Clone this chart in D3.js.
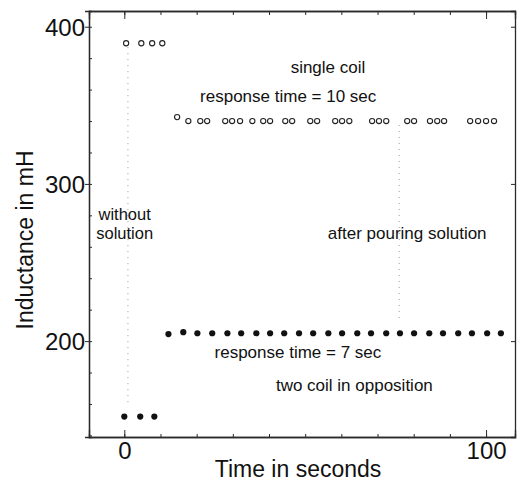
<!DOCTYPE html>
<html>
<head>
<meta charset="utf-8">
<script src="https://cdn.jsdelivr.net/npm/d3@7"></script>
<style>
  body { margin: 0; background: #fff; }
  svg text { font-family: "Liberation Sans", Arial, Helvetica, sans-serif; fill: #111; }
</style>
</head>
<body>
<div id="chart"></div>
<script>
// single coil (open circles): time in s, inductance in mH
let singleCoilTime = [0.5, 4.7, 7.7, 10.5, 14.6, 17.7, 21.0, 22.9, 27.9, 29.8, 32.0, 35.4, 38.4, 40.3, 44.5, 46.4,
    51.4, 53.3, 58.3, 60.2, 62.2, 68.5, 70.4, 72.4, 78.2, 80.1, 84.5, 86.5, 88.4, 95.6, 97.8, 100.0, 102.2]
let singleCoilL = [389.5, 389.5, 389.5, 389.5, 342.5, 340, 340, 340, 340, 340, 340, 340, 340, 340, 340, 340,
    340, 340, 340, 340, 340, 340, 340, 340, 340, 340, 340, 340, 340, 340, 340, 340, 340]

// two coil in opposition (filled dots)
let twoCoilTime = [0, 4.4, 8.3, 12.2, 16.3, 20.2, 24.3, 28.5, 32.3, 36.5, 40.3, 44.2, 48.3, 52.2, 56.4,
    60.2, 64.4, 68.2, 72.4, 76.2, 80.1, 84.3, 88.1, 92.3, 96.1, 100.3, 104.1]
let twoCoilL = [152, 152, 152, 204.5, 205.7, 205, 205, 205, 205, 205, 205, 205, 205, 205, 205,
    205, 205, 205, 205, 205, 205, 205, 205, 205, 205, 205, 205]

// dotted guide lines (time, from, to)
let guideTime = [1, 76]
let guideFrom = [387, 337.5]
let guideTo = [161, 214.6]

// axis ticks
let xMajor = [0, 100]
let xMinor = [0, 10, 20, 30, 40, 50, 60, 70, 80, 90, 100]
let yMajor = [200, 300, 400]
let yMinor = [140, 160, 180, 200, 220, 240, 260, 280, 300, 320, 340, 360, 380, 400]

// annotations
let noteText = ["single coil", "response time = 10 sec", "without", "solution", "after pouring solution",
    "response time = 7 sec", "two coil in opposition"]
let noteTime = [56.3, 45.3, 0.1, 0.1, 78.2, 48.0, 63.6]
let noteL = [370.6, 352.1, 277.2, 265.2, 265.2, 189.2, 168.2]

let width = 517
let height = 485
let margin = { top: 11, right: 2, bottom: 48, left: 89 }
let innerW = width - margin.left - margin.right
let innerH = height - margin.top - margin.bottom

let svg = d3.select("#chart").append("svg")
    .attr("width", width)
    .attr("height", height)

let g = svg.append("g")
    .attr("transform", "translate(" + margin.left + "," + margin.top + ")")

let xScale = d3.scaleLinear().domain([-9.76, 108]).range([0, innerW])
let yScale = d3.scaleLinear().domain([139, 410]).range([innerH, 0])

// 坐标轴
function styleAxis(sel) {
    sel.select(".domain").attr("stroke", "#2a2a2a").attr("stroke-width", 1.3)
    sel.selectAll(".tick line").attr("stroke", "#2a2a2a").attr("stroke-width", 1)
}

// minor ticks, all inward
g.append("g")
    .call(d3.axisLeft(yScale).tickValues(yMinor).tickSize(-3).tickFormat(""))
    .call(styleAxis)
g.append("g")
    .attr("transform", "translate(" + innerW + ",0)")
    .call(d3.axisRight(yScale).tickValues(yMajor).tickSize(-4).tickFormat(""))
    .call(styleAxis)
g.append("g")
    .call(d3.axisTop(xScale).tickValues(xMinor).tickSize(-4).tickFormat(""))
    .call(styleAxis)
g.append("g")
    .call(d3.axisTop(xScale).tickValues(xMajor).tickSize(-8).tickFormat(""))
    .call(styleAxis)
g.append("g")
    .attr("transform", "translate(0," + innerH + ")")
    .call(d3.axisBottom(xScale).tickValues(xMinor).tickSize(-3).tickFormat(""))
    .call(styleAxis)
g.append("g")
    .attr("transform", "translate(0," + innerH + ")")
    .call(d3.axisBottom(xScale).tickValues(xMajor).tickSize(-7).tickFormat(""))
    .call(styleAxis)

// major labelled axes
let yAxis = g.append("g")
    .call(d3.axisLeft(yScale).tickValues(yMajor).tickSize(4).tickPadding(0))
    .call(styleAxis)
yAxis.selectAll("text")
    .attr("font-size", "24px")
    .attr("dy", "0.36em")

let xAxis = g.append("g")
    .attr("transform", "translate(0," + innerH + ")")
    .call(d3.axisBottom(xScale).tickValues(xMajor).tickSize(0).tickPadding(5))
xAxis.select(".domain").remove()
xAxis.selectAll("text").attr("font-size", "24px")

// axis titles
svg.append("text")
    .attr("x", 298)
    .attr("y", 477)
    .attr("text-anchor", "middle")
    .attr("font-size", "23px")
    .text("Time in seconds")

svg.append("text")
    .attr("transform", "translate(33,240) rotate(-90)")
    .attr("text-anchor", "middle")
    .attr("font-size", "23px")
    .text("Inductance in mH")

// dotted guides
g.selectAll(".guide")
    .data(guideTime)
    .enter().append("line")
    .attr("class", "guide")
    .attr("x1", d => xScale(d))
    .attr("x2", d => xScale(d))
    .attr("y1", (d, i) => yScale(guideFrom[i]))
    .attr("y2", (d, i) => yScale(guideTo[i]))
    .attr("stroke", "#9a9a9a")
    .attr("stroke-width", 1)
    .attr("stroke-dasharray", "1,5")

// annotations
g.selectAll(".note")
    .data(noteText)
    .enter().append("text")
    .attr("class", "note")
    .attr("x", (d, i) => xScale(noteTime[i]))
    .attr("y", (d, i) => yScale(noteL[i]))
    .attr("text-anchor", "middle")
    .attr("font-size", (d, i) => (i === 2 || i === 3) ? "16.5px" : "17px")
    .text(d => d)

// single coil: open circles
g.selectAll(".open")
    .data(singleCoilTime)
    .enter().append("circle")
    .attr("class", "open")
    .attr("cx", d => xScale(d))
    .attr("cy", (d, i) => yScale(singleCoilL[i]))
    .attr("r", 2.6)
    .attr("fill", "#fff")
    .attr("stroke", "#222")
    .attr("stroke-width", 1.1)

// two coils: filled dots
g.selectAll(".filled")
    .data(twoCoilTime)
    .enter().append("circle")
    .attr("class", "filled")
    .attr("cx", d => xScale(d))
    .attr("cy", (d, i) => yScale(twoCoilL[i]))
    .attr("r", 3.1)
    .attr("fill", "#111")
</script>
</body>
</html>
